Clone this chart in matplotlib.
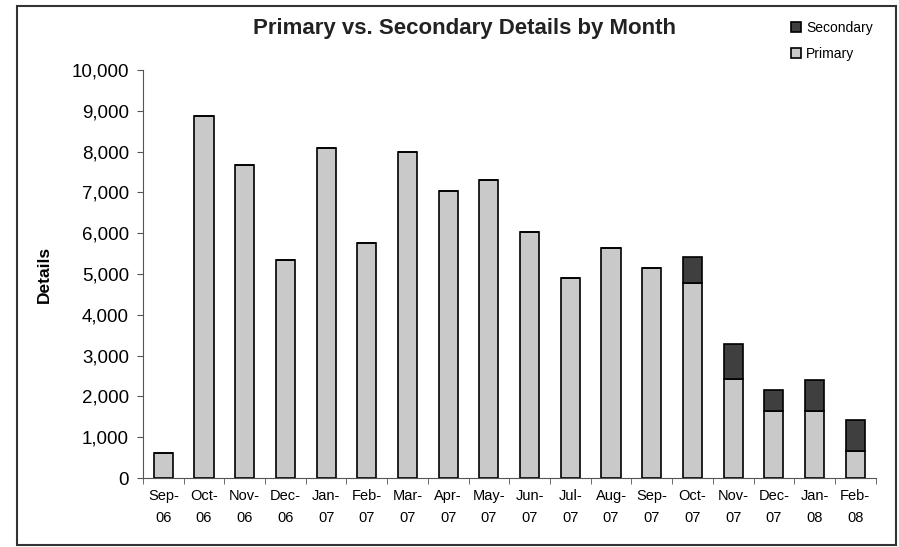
import matplotlib
matplotlib.use("Agg")
import matplotlib.pyplot as plt
import numpy as np
from matplotlib.ticker import FuncFormatter
from matplotlib.patches import Rectangle

plt.rcParams['font.family'] = ['Liberation Sans', 'DejaVu Sans']

# dados
meses = ["Sep-\n06", "Oct-\n06", "Nov-\n06", "Dec-\n06", "Jan-\n07", "Feb-\n07",
         "Mar-\n07", "Apr-\n07", "May-\n07", "Jun-\n07", "Jul-\n07", "Aug-\n07",
         "Sep-\n07", "Oct-\n07", "Nov-\n07", "Dec-\n07", "Jan-\n08", "Feb-\n08"]
primary = [610, 8880, 7680, 5350, 8080, 5760, 7990, 7040, 7300, 6030,
           4900, 5640, 5150, 4790, 2430, 1650, 1650, 670]
secondary = [0, 0, 0, 0, 0, 0, 0, 0, 0, 0,
             0, 0, 0, 630, 850, 510, 750, 750]

fig = plt.figure(figsize=(8.99, 5.47), dpi=100)
ax = fig.add_axes([0.159, 0.126, 0.815, 0.746])

x = np.arange(len(meses))
largura = 0.47
ax.bar(x, primary, largura, color="#c9c9c9", edgecolor="black", linewidth=1.2,
       label="Primary", zorder=2)
ax.bar(x, secondary, largura, bottom=primary, color="#3f3f3f", edgecolor="black",
       linewidth=1.2, label="Secondary", zorder=2)

ax.set_xlim(-0.5, len(meses) - 0.5)
ax.set_ylim(0, 10000)
ax.set_yticks(np.arange(0, 10001, 1000))
ax.yaxis.set_major_formatter(FuncFormatter(lambda v, p: f"{int(v):,}"))
ax.tick_params(axis="y", labelsize=13.5, direction="out", length=4, pad=6,
               color="#555555")

ax.set_xticks(x)
ax.set_xticklabels(meses, fontsize=10.5, linespacing=1.75)
ax.set_xticks(np.arange(-0.5, len(meses), 1), minor=True)
ax.tick_params(axis="x", which="major", length=0, pad=8)
ax.tick_params(axis="x", which="minor", length=4, direction="out", color="#555555")

for lado in ["top", "right"]:
    ax.spines[lado].set_visible(False)
ax.spines["left"].set_color("#555555")
ax.spines["bottom"].set_color("#555555")

ax.set_ylabel("Details", fontsize=12.5, fontweight="bold", labelpad=14)
fig.text(0.517, 0.947, "Primary vs. Secondary Details by Month", fontsize=16,
         fontweight="bold", ha="center", va="center", color="#222222")

h, l = ax.get_legend_handles_labels()
leg = fig.legend(h[::-1], l[::-1], loc="upper right", bbox_to_anchor=(0.985, 0.985),
                 frameon=False, fontsize=10, handlelength=0.7, handleheight=0.7,
                 handletextpad=0.4, labelspacing=0.9)

# moldura externa
fig.patches.append(Rectangle((0.019, 0.004), 0.978, 0.985, transform=fig.transFigure,
                             fill=False, edgecolor="#333333", linewidth=1.5))

plt.savefig("out.png", dpi=100)
